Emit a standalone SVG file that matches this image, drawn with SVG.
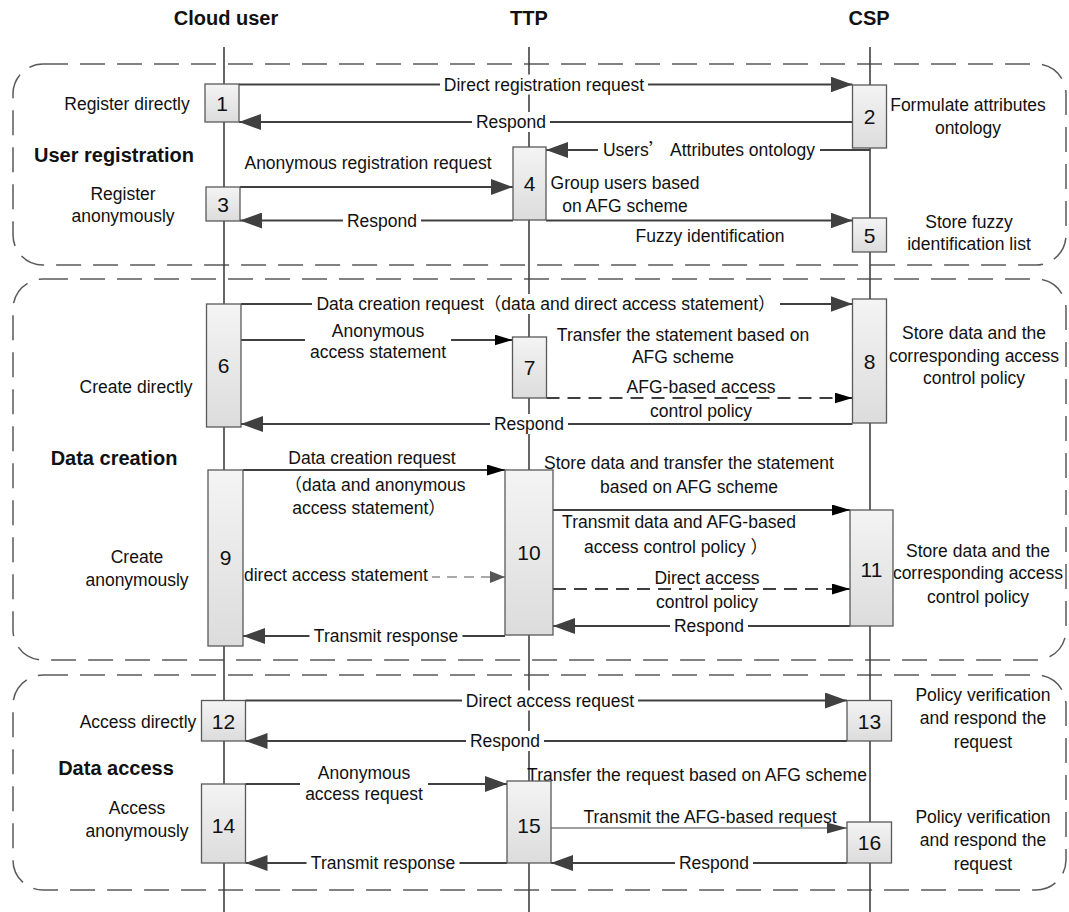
<svg xmlns="http://www.w3.org/2000/svg" width="1069" height="912" viewBox="0 0 1069 912">
  <defs>
    <style>
      .t { font-family: "Liberation Sans", "Noto Sans CJK SC", sans-serif; font-size: 17.5px; fill: #111; }
      .m { text-anchor: middle; }
      .h { font-weight: bold; font-size: 20px; }
      .n { font-family: "Liberation Sans", sans-serif; font-size: 21px; fill: #111; text-anchor: middle; }
      .cjk { font-family: "Noto Sans CJK SC", sans-serif; }
      .box { fill: url(#boxFill); stroke: #595959; stroke-width: 1.3; }
      .life { stroke: #404040; stroke-width: 1.6; fill: none; }
      .sec { fill: none; stroke: #5a5a5a; stroke-width: 1.5; stroke-dasharray: 25 12; }
      .a { stroke: #404040; stroke-width: 2; fill: none; marker-end: url(#hA); }
      .b { stroke: #000; stroke-width: 1.5; fill: none; marker-end: url(#hB); }
      .bd { stroke: #000; stroke-width: 1.5; fill: none; stroke-dasharray: 13 8; marker-end: url(#hB); }
      .gd { stroke: #555; stroke-width: 1.2; fill: none; stroke-dasharray: 10 7; marker-end: url(#hC); }
      .g1 { stroke: #404040; stroke-width: 1.2; fill: none; marker-end: url(#hD); }
      .bg { fill: #fff; }
    </style>
    <linearGradient id="boxFill" x1="0" y1="0" x2="0" y2="1">
      <stop offset="0" stop-color="#f4f4f4"/>
      <stop offset="1" stop-color="#dcdcdc"/>
    </linearGradient>
    <marker id="hA" markerUnits="userSpaceOnUse" markerWidth="22" markerHeight="16" refX="22" refY="8" orient="auto">
      <path d="M0,0 L22,8 L0,16 z" fill="#404040"/>
    </marker>
    <marker id="hB" markerUnits="userSpaceOnUse" markerWidth="18" markerHeight="11" refX="18" refY="5.5" orient="auto">
      <path d="M0,0 L18,5.5 L0,11 z" fill="#000"/>
    </marker>
    <marker id="hC" markerUnits="userSpaceOnUse" markerWidth="15" markerHeight="12" refX="15" refY="6" orient="auto">
      <path d="M0,0 L15,6 L0,12 z" fill="#555"/>
    </marker>
    <marker id="hD" markerUnits="userSpaceOnUse" markerWidth="20" markerHeight="11" refX="20" refY="5.5" orient="auto">
      <path d="M0,0 L20,5.5 L0,11 z" fill="#404040"/>
    </marker>
  </defs>

  <rect width="1069" height="912" fill="#fff"/>

  <!-- phase frames -->
  <g id="phases">
    <rect class="sec" x="13" y="64" width="1053" height="201" rx="30" ry="30"/>
    <rect class="sec" x="13" y="279" width="1053" height="381" rx="30" ry="30"/>
    <rect class="sec" x="13" y="675" width="1053" height="215" rx="30" ry="30"/>
  </g>

  <!-- participants -->
  <g id="participants">
    <text class="t m h" x="226" y="25">Cloud user</text>
    <text class="t m h" x="529" y="25">TTP</text>
    <text class="t m h" x="869" y="25">CSP</text>
    <line class="life" x1="224" y1="47" x2="224" y2="912"/>
    <line class="life" x1="529" y1="47" x2="529" y2="912"/>
    <line class="life" x1="870" y1="47" x2="870" y2="912"/>
  </g>

  <!-- phase titles and step notes -->
  <g id="notes">
    <text class="t m h" x="114" y="162">User registration</text>
    <text class="t m h" x="114" y="465">Data creation</text>
    <text class="t m h" x="116" y="775">Data access</text>

    <text class="t m" x="127" y="110">Register directly</text>
    <text class="t m" x="123" y="200">Register</text>
    <text class="t m" x="123" y="222">anonymously</text>
    <text class="t m" x="136" y="393">Create directly</text>
    <text class="t m" x="137" y="563">Create</text>
    <text class="t m" x="137" y="586">anonymously</text>
    <text class="t m" x="138" y="728">Access directly</text>
    <text class="t m" x="137" y="814">Access</text>
    <text class="t m" x="137" y="837">anonymously</text>

    <text class="t m" x="968" y="111">Formulate attributes</text>
    <text class="t m" x="968" y="134">ontology</text>
    <text class="t m" x="625" y="189">Group users based</text>
    <text class="t m" x="625" y="212">on AFG scheme</text>
    <text class="t m" x="969" y="228">Store fuzzy</text>
    <text class="t m" x="969" y="250">identification list</text>

    <text class="t m" x="683" y="341">Transfer the statement based on</text>
    <text class="t m" x="683" y="363">AFG scheme</text>
    <text class="t m" x="974" y="339">Store data and the</text>
    <text class="t m" x="974" y="362">corresponding access</text>
    <text class="t m" x="974" y="384">control policy</text>
    <text class="t m" x="689" y="469">Store data and transfer the statement</text>
    <text class="t m" x="689" y="493">based on AFG scheme</text>
    <text class="t m" x="978" y="557">Store data and the</text>
    <text class="t m" x="978" y="579">corresponding access</text>
    <text class="t m" x="978" y="603">control policy</text>

    <text class="t m" x="697" y="781">Transfer the request based on AFG scheme</text>
    <text class="t m" x="983" y="701">Policy verification</text>
    <text class="t m" x="983" y="724">and respond the</text>
    <text class="t m" x="983" y="748">request</text>
    <text class="t m" x="983" y="823">Policy verification</text>
    <text class="t m" x="983" y="846">and respond the</text>
    <text class="t m" x="983" y="870">request</text>
  </g>

  <!-- messages -->
  <g id="connectors">
    <!-- user registration -->
    <line class="a" x1="239" y1="84.5" x2="852.5" y2="84.5"/>
    <line class="a" x1="852.5" y1="122" x2="239" y2="122"/>
    <line class="a" x1="870" y1="150" x2="546" y2="150"/>
    <line class="a" x1="240" y1="187" x2="513" y2="187"/>
    <line class="a" x1="513" y1="220.5" x2="240" y2="220.5"/>
    <line class="a" x1="546" y1="220.5" x2="852.5" y2="220.5"/>
    <!-- data creation -->
    <line class="a" x1="241" y1="304" x2="852.5" y2="304"/>
    <line class="b" x1="241" y1="340" x2="512.5" y2="340"/>
    <line class="bd" x1="546.5" y1="398" x2="852.5" y2="398"/>
    <line class="a" x1="852.5" y1="424" x2="241" y2="424"/>
    <line class="b" x1="243" y1="470" x2="505" y2="470"/>
    <line class="b" x1="553" y1="510" x2="850" y2="510"/>
    <line class="gd" x1="243" y1="577" x2="505" y2="577"/>
    <line class="bd" x1="553" y1="589" x2="850" y2="589"/>
    <line class="a" x1="850" y1="626" x2="553" y2="626"/>
    <line class="a" x1="505" y1="636" x2="243" y2="636"/>
    <!-- data access -->
    <line class="a" x1="245.5" y1="700.5" x2="847" y2="700.5"/>
    <line class="a" x1="847" y1="741" x2="245.5" y2="741"/>
    <line class="a" x1="245.5" y1="784" x2="507" y2="784"/>
    <line class="g1" x1="551" y1="828" x2="847" y2="828"/>
    <line class="a" x1="847" y1="863" x2="551" y2="863"/>
    <line class="a" x1="507" y1="863" x2="245.5" y2="863"/>
  </g>

  <!-- message labels -->
  <g id="connector-labels">
    <rect class="bg" x="440" y="74.5" width="208" height="20"/>
    <text class="t m" x="544" y="90.5">Direct registration request</text>
    <rect class="bg" x="472" y="112" width="78" height="20"/>
    <text class="t m" x="511" y="128">Respond</text>
    <rect class="bg" x="598" y="140" width="222" height="20"/>
    <text class="t m" x="709" y="156">Users<tspan class="cjk">’</tspan> Attributes ontology</text>
    <text class="t m" x="368" y="169">Anonymous registration request</text>
    <rect class="bg" x="343" y="210.5" width="78" height="20"/>
    <text class="t m" x="382" y="226.5">Respond</text>
    <text class="t m" x="710" y="242">Fuzzy identification</text>

    <rect class="bg" x="312" y="294" width="468" height="20"/>
    <text class="t m" x="546" y="310">Data creation request（data and direct access statement）</text>
    <rect class="bg" x="305" y="320" width="146" height="42"/>
    <text class="t m" x="378" y="337">Anonymous</text>
    <text class="t m" x="378" y="358">access statement</text>
    <text class="t m" x="701" y="393">AFG-based access</text>
    <text class="t m" x="701" y="417">control policy</text>
    <rect class="bg" x="490" y="414" width="78" height="20"/>
    <text class="t m" x="529" y="430">Respond</text>
    <text class="t m" x="372" y="464">Data creation request</text>
    <text class="t m" x="375" y="491">（data and anonymous</text>
    <text class="t m" x="369" y="514">access statement）</text>
    <text class="t m" x="679" y="528">Transmit data and AFG-based</text>
    <text class="t m" x="676" y="553">access control policy ）</text>
    <rect class="bg" x="243" y="567" width="189" height="20"/>
    <text class="t" x="244" y="581">direct access statement</text>
    <text class="t m" x="707" y="584">Direct access</text>
    <text class="t m" x="707" y="608">control policy</text>
    <rect class="bg" x="670" y="616" width="78" height="20"/>
    <text class="t m" x="709" y="632">Respond</text>
    <rect class="bg" x="309.5" y="626" width="153" height="20"/>
    <text class="t m" x="386" y="642">Transmit response</text>

    <rect class="bg" x="462" y="690.5" width="176" height="20"/>
    <text class="t m" x="550" y="706.5">Direct access request</text>
    <rect class="bg" x="466" y="731" width="78" height="20"/>
    <text class="t m" x="505" y="747">Respond</text>
    <rect class="bg" x="300" y="763" width="128" height="42"/>
    <text class="t m" x="364" y="779">Anonymous</text>
    <text class="t m" x="364" y="800">access request</text>
    <text class="t m" x="710" y="823">Transmit the AFG-based request</text>
    <rect class="bg" x="675" y="853" width="78" height="20"/>
    <text class="t m" x="714" y="869">Respond</text>
    <rect class="bg" x="306.5" y="853" width="153" height="20"/>
    <text class="t m" x="383" y="869">Transmit response</text>
  </g>

  <!-- activation boxes -->
  <g id="step-1"><rect class="box" x="205" y="84" width="34" height="38"/><text class="n" x="222" y="110.5">1</text></g>
  <g id="step-2"><rect class="box" x="852.5" y="85" width="34" height="63"/><text class="n" x="869.5" y="124">2</text></g>
  <g id="step-3"><rect class="box" x="206" y="187" width="34" height="34"/><text class="n" x="223" y="211.5">3</text></g>
  <g id="step-4"><rect class="box" x="513" y="147" width="33" height="73"/><text class="n" x="529.5" y="191">4</text></g>
  <g id="step-5"><rect class="box" x="852.5" y="218" width="34" height="34"/><text class="n" x="869.5" y="242.5">5</text></g>
  <g id="step-6"><rect class="box" x="206.5" y="304" width="34.5" height="123"/><text class="n" x="223.5" y="373">6</text></g>
  <g id="step-7"><rect class="box" x="512.5" y="337" width="34" height="61"/><text class="n" x="529.5" y="375">7</text></g>
  <g id="step-8"><rect class="box" x="852.5" y="299" width="34" height="124"/><text class="n" x="869.5" y="369">8</text></g>
  <g id="step-9"><rect class="box" x="208" y="470" width="35" height="176"/><text class="n" x="225.5" y="565">9</text></g>
  <g id="step-10"><rect class="box" x="505" y="470" width="48" height="165"/><text class="n" x="529" y="560">10</text></g>
  <g id="step-11"><rect class="box" x="850" y="510" width="43" height="116"/><text class="n" x="871.5" y="577">11</text></g>
  <g id="step-12"><rect class="box" x="201.5" y="700.5" width="44" height="40.5"/><text class="n" x="223.5" y="728.5">12</text></g>
  <g id="step-13"><rect class="box" x="847" y="700.5" width="44.5" height="40.5"/><text class="n" x="869.5" y="728.5">13</text></g>
  <g id="step-14"><rect class="box" x="201.5" y="784" width="44" height="79"/><text class="n" x="223.5" y="833">14</text></g>
  <g id="step-15"><rect class="box" x="507" y="781" width="44" height="82"/><text class="n" x="529" y="833">15</text></g>
  <g id="step-16"><rect class="box" x="847" y="822" width="44.5" height="41"/><text class="n" x="869.5" y="850">16</text></g>
</svg>
